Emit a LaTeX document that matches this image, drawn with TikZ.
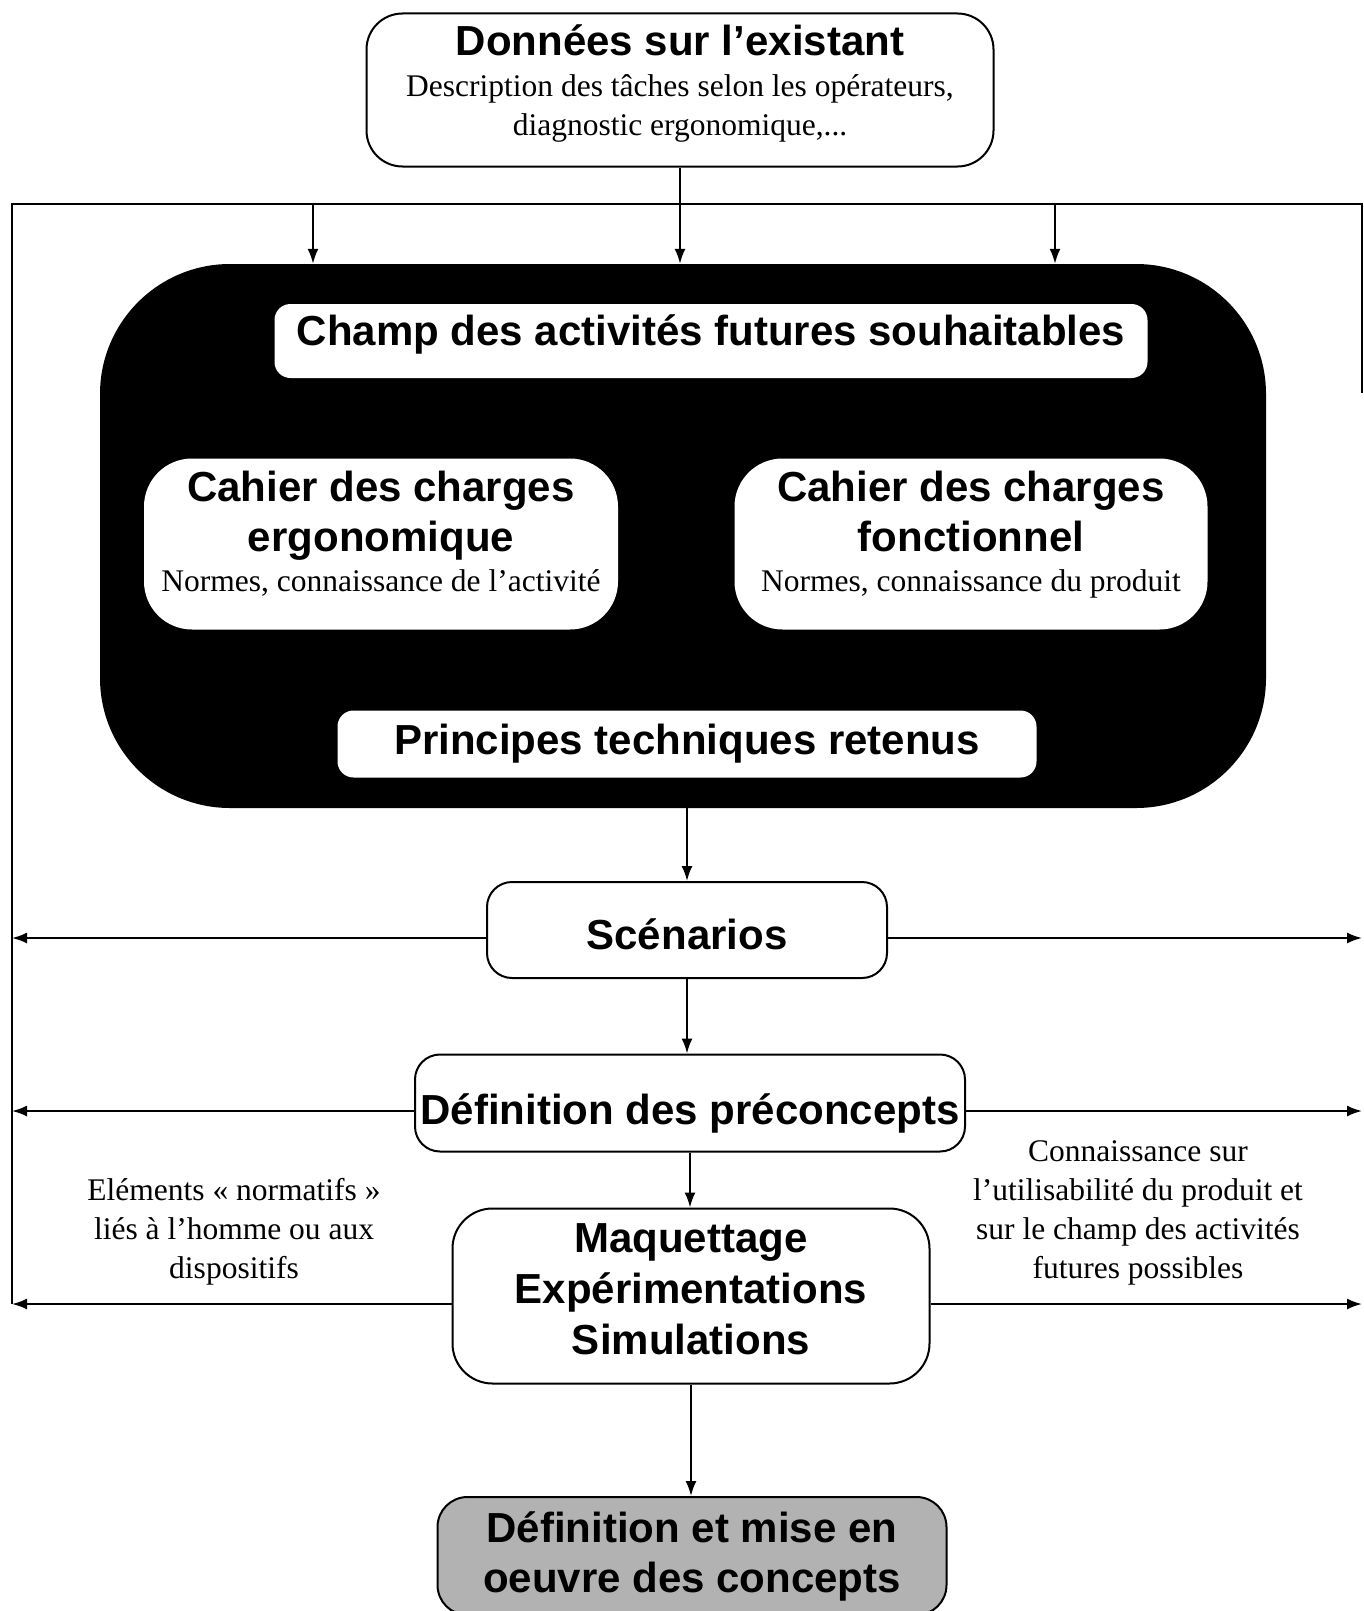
\documentclass[tikz,border=0pt]{standalone}
\usepackage{fontspec}
\setmainfont{Liberation Serif}
\setsansfont{Liberation Sans}
\usetikzlibrary{arrows.meta, positioning}

\newcommand{\titrefont}{\fontsize{42}{50}\selectfont\sffamily\bfseries}
\newcommand{\textefont}{\fontsize{31.5}{39}\selectfont\rmfamily\mdseries}
\newcommand{\basdepth}[1]{\rule[-#1]{0pt}{#1}}

\begin{document}
\begin{tikzpicture}[
      x=1pt, y=-1pt,
      boite/.style={
          rectangle,
          draw,
          line width=2pt,
          rounded corners=28pt,
          align=center,
          fill=white,
          font=\titrefont
        },
      cartouche/.style={
          rectangle,
          rounded corners=16pt,
          align=center,
          fill=white,
          inner sep=0pt,
          font=\titrefont
        },
      zone/.style={
          rectangle,
          rounded corners=130pt,
          fill=black,
          inner sep=0pt
        },
      note/.style={
          align=center,
          font=\textefont
        },
      trait/.style={
          line width=2pt
        },
      fleche/.style={
          -{Latex[length=15pt,width=11pt]},
          line width=2pt
        }
    ]
    \useasboundingbox (0,0) rectangle (1363,1611);

    % Donnees d'entree
    \node[boite, rounded corners=36pt, minimum width=627pt, minimum height=153pt] (donnees) at (680,90)
      {Données sur l’existant\\[-9pt]
       {\textefont Description des tâches selon les opérateurs,}\\[-11pt]
       {\textefont diagnostic ergonomique,...\basdepth{20pt}}};

    % Cadre
    \coordinate (cadre_nw) at (12,204);
    \coordinate (cadre_ne) at (1362,204);
    \coordinate (cadre_se) at (1362,393);
    \coordinate (fl_gauche) at (313,204);
    \coordinate (fl_droite) at (1055,204);

    % Zone noire
    \node[zone, minimum width=1166pt, minimum height=544pt] (champ_zone) at (683,536) {};
    \node[cartouche, minimum width=873pt, minimum height=74pt] (champ) at (711,341)
      {Champ des activités futures souhaitables\basdepth{21pt}};
    \node[cartouche, rounded corners=48pt, minimum width=474pt, minimum height=171pt] (cahier_ergo) at (381,544)
      {Cahier des charges\\ergonomique\\[-10pt]{\textefont Normes, connaissance de l’activité\basdepth{26pt}}};
    \node[cartouche, rounded corners=48pt, minimum width=473pt, minimum height=171pt] (cahier_fonc) at (971,544)
      {Cahier des charges\\fonctionnel\\[-10pt]{\textefont Normes, connaissance du produit\basdepth{26pt}}};
    \node[cartouche, minimum width=699pt, minimum height=67pt] (principes) at (687,744)
      {Principes techniques retenus};

    % Etapes
    \node[boite, rounded corners=25pt, minimum width=400pt, minimum height=96pt] (scenarios) at (687,930)
      {\rule{0pt}{40pt}Scénarios};
    \node[boite, rounded corners=25pt, inner sep=0pt, minimum width=550pt, minimum height=97pt] (preconcepts) at (690,1103)
      {\rule{0pt}{52pt}Définition des préconcepts};
    \node[boite, rounded corners=40pt, minimum width=477pt, minimum height=175pt] (maquettage) at (691,1296)
      {Maquettage\\[1pt]Expérimentations\\[1pt]Simulations\basdepth{14pt}};
    \node[boite, rounded corners=30pt, fill=black!30, minimum width=509pt, minimum height=118pt] (concepts) at (692,1556)
      {Définition et mise en\\oeuvre des concepts};

    % Notes
    \node[note] (elements) at (234,1232) {Eléments «~normatifs~»\\liés à l’homme ou aux\\dispositifs};
    \node[note] (connaissance) at (1138,1213)
      {Connaissance sur\\l’utilisabilité du produit et\\sur le champ des activités\\futures possibles};

    % Arrows
    \draw[trait] (cadre_nw |- maquettage.west) ++(0,8) -- (cadre_nw) -- (cadre_ne) -- (cadre_se);
    \draw[fleche] (donnees.south) -- (donnees.south |- champ_zone.north);
    \draw[fleche] (fl_gauche) -- (fl_gauche |- champ_zone.north);
    \draw[fleche] (fl_droite) -- (fl_droite |- champ_zone.north);
    \draw[fleche] (champ_zone.south -| scenarios.north) -- (scenarios.north);
    \draw[fleche] (scenarios.south) -- (scenarios.south |- preconcepts.north);
    \draw[fleche] (preconcepts.south) -- (preconcepts.south |- maquettage.north);
    \draw[fleche] (maquettage.south) -- (maquettage.south |- concepts.north);

    % Retours lateraux
    \foreach \etape in {scenarios, preconcepts, maquettage} {
        \draw[fleche] ([yshift=-8pt]\etape.west) -- ([yshift=-8pt]\etape.west -| cadre_nw);
        \draw[fleche] ([yshift=-8pt]\etape.east) -- ([yshift=-8pt]\etape.east -| cadre_ne);
      }
  \end{tikzpicture}
\end{document}
